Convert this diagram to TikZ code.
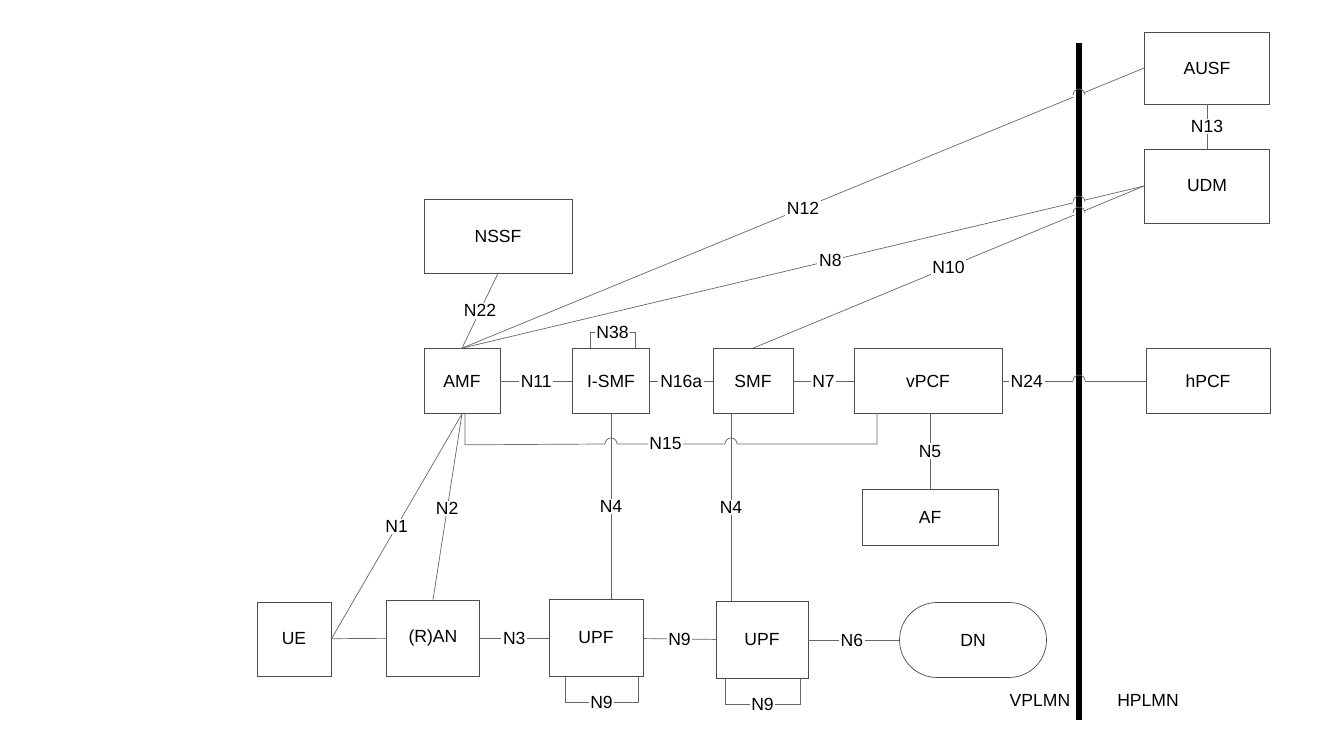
\documentclass[tikz,border=0pt]{standalone}
\usepackage{fontspec}
\setmainfont{Liberation Sans}
\begin{document}
\begin{tikzpicture}[
    x=0.02cm, y=0.02cm,
    font=\fontsize{10}{12}\selectfont,
    nf/.style={rectangle, draw=black!70, thin, inner sep=0pt},
    link/.style={draw=black!60, thin},
    lbl/.style={fill=white, inner sep=1pt, font=\fontsize{10}{12}\selectfont},
    bump/.style={draw=black!60, thin}
]
\useasboundingbox (0,0) rectangle (1339,736);

% Home side
\node[nf, minimum width=2.5cm, minimum height=1.44cm] (ausf) at (1207,668) {AUSF};
\node[nf, minimum width=2.5cm, minimum height=1.48cm] (udm) at (1207,550) {UDM};
\node[nf, minimum width=2.48cm, minimum height=1.3cm] (hpcf) at (1208,355) {hPCF};

% Visited side, control plane
\node[nf, minimum width=2.96cm, minimum height=1.48cm] (nssf) at (498,500) {NSSF};
\node[nf, minimum width=1.52cm, minimum height=1.3cm] (amf) at (462,355) {AMF};
\node[nf, minimum width=1.54cm, minimum height=1.3cm] (ismf) at (611,355) {I-SMF};
\node[nf, minimum width=1.6cm, minimum height=1.3cm] (smf) at (753,355) {SMF};
\node[nf, minimum width=2.96cm, minimum height=1.3cm] (vpcf) at (928,355) {vPCF};
\node[nf, minimum width=2.72cm, minimum height=1.12cm] (af) at (930,219) {AF};

% User plane
\node[nf, minimum width=1.48cm, minimum height=1.48cm] (ue) at (294,97) {UE};
\node[nf, minimum width=1.86cm, minimum height=1.52cm] (ran) at (433,98) {(R)AN};
\node[nf, minimum width=1.88cm, minimum height=1.54cm] (upf1) at (596,98) {UPF};
\node[nf, minimum width=1.84cm, minimum height=1.54cm] (upf2) at (762,96) {UPF};
\node[nf, rounded corners=0.75cm, minimum width=2.94cm, minimum height=1.5cm] (dn) at (973,96) {DN};

% PLMN border
\coordinate (bt) at (1079,693);
\coordinate (bb) at (1079,16);
\coordinate (n15) at (0,292);
\node (vplmn) at (1040,36) {VPLMN};
\node (hplmn) at (1148,36) {HPLMN};

% Links
\draw[link] (amf.north) -- node[lbl, pos=0.5] {N12} (ausf.west);
\draw[link] (amf.north) -- node[lbl, pos=0.54] {N8} (udm.west);
\draw[link] (smf.north) -- node[lbl, pos=0.5] {N10} (udm.west);
\draw[link] (ausf) -- node[lbl] {N13} (udm);
\draw[link] (amf.north) -- node[lbl] {N22} (nssf.south);
\draw[link] (amf) -- node[lbl] {N11} (ismf);
\draw[link] (ismf) -- node[lbl] {N16a} (smf);
\draw[link] (smf) -- node[lbl] {N7} (vpcf);
\draw[link] (vpcf) -- node[lbl, pos=0.17] {N24} (hpcf);
\draw[link] (vpcf.south -| af.north) -- node[lbl] {N5} (af.north);
\draw[link] (ismf.north) ++(-21,0) -- ++(0,16) -- node[lbl] {N38} ++(45,0) -- ++(0,-16);
\draw[link] (ismf.south) -- node[lbl] {N4} (ismf.south |- upf1.north);
\draw[link] (smf.south) ++(-22,0) coordinate (n4b) -- node[lbl] {N4} (n4b |- upf2.north);
\draw[link] (amf.south) ++(3,0) -- ++(0,-31) -- ([xshift=-0.12cm]ismf.south |- n15) arc (180:0:6)
    -- node[lbl, pos=0.45] {N15} ([xshift=-0.12cm]n4b |- n15) arc (180:0:6)
    -- (877,292) -- (877,323);
\draw[link] (ue.east) -- node[lbl, pos=0.5] {N1} (amf.south);
\draw[link] (ran.north) -- node[lbl, pos=0.49] {N2} (amf.south);
\draw[link] (ue) -- (ran);
\draw[link] (ran) -- node[lbl] {N3} (upf1);
\draw[link] (upf1) -- node[lbl] {N9} (upf2);
\draw[link] (upf2) -- node[lbl, pos=0.48] {N6} (dn);
\draw[link] (upf1.south) ++(-31,0) -- ++(0,-26) -- node[lbl] {N9} ++(73,0) -- ++(0,26);
\draw[link] (upf2.south) ++(-37,0) -- ++(0,-26) -- node[lbl] {N9} ++(75,0) -- ++(0,26);

% Border line and bumps
\draw[line width=1.2mm] (bt) -- (bb);
\foreach \yy in {641,534,523,355} {
  \coordinate (x) at (1079,\yy);
  \fill[white] ([xshift=-0.12cm, yshift=-0.04cm]x) rectangle ([xshift=0.12cm, yshift=0.04cm]x);
  \draw[bump] ([xshift=-0.12cm]x) arc (180:0:6);
  \draw[line width=1.2mm] ([yshift=-0.06cm]x) -- ([yshift=0.06cm]x);
}
\end{tikzpicture}
\end{document}
